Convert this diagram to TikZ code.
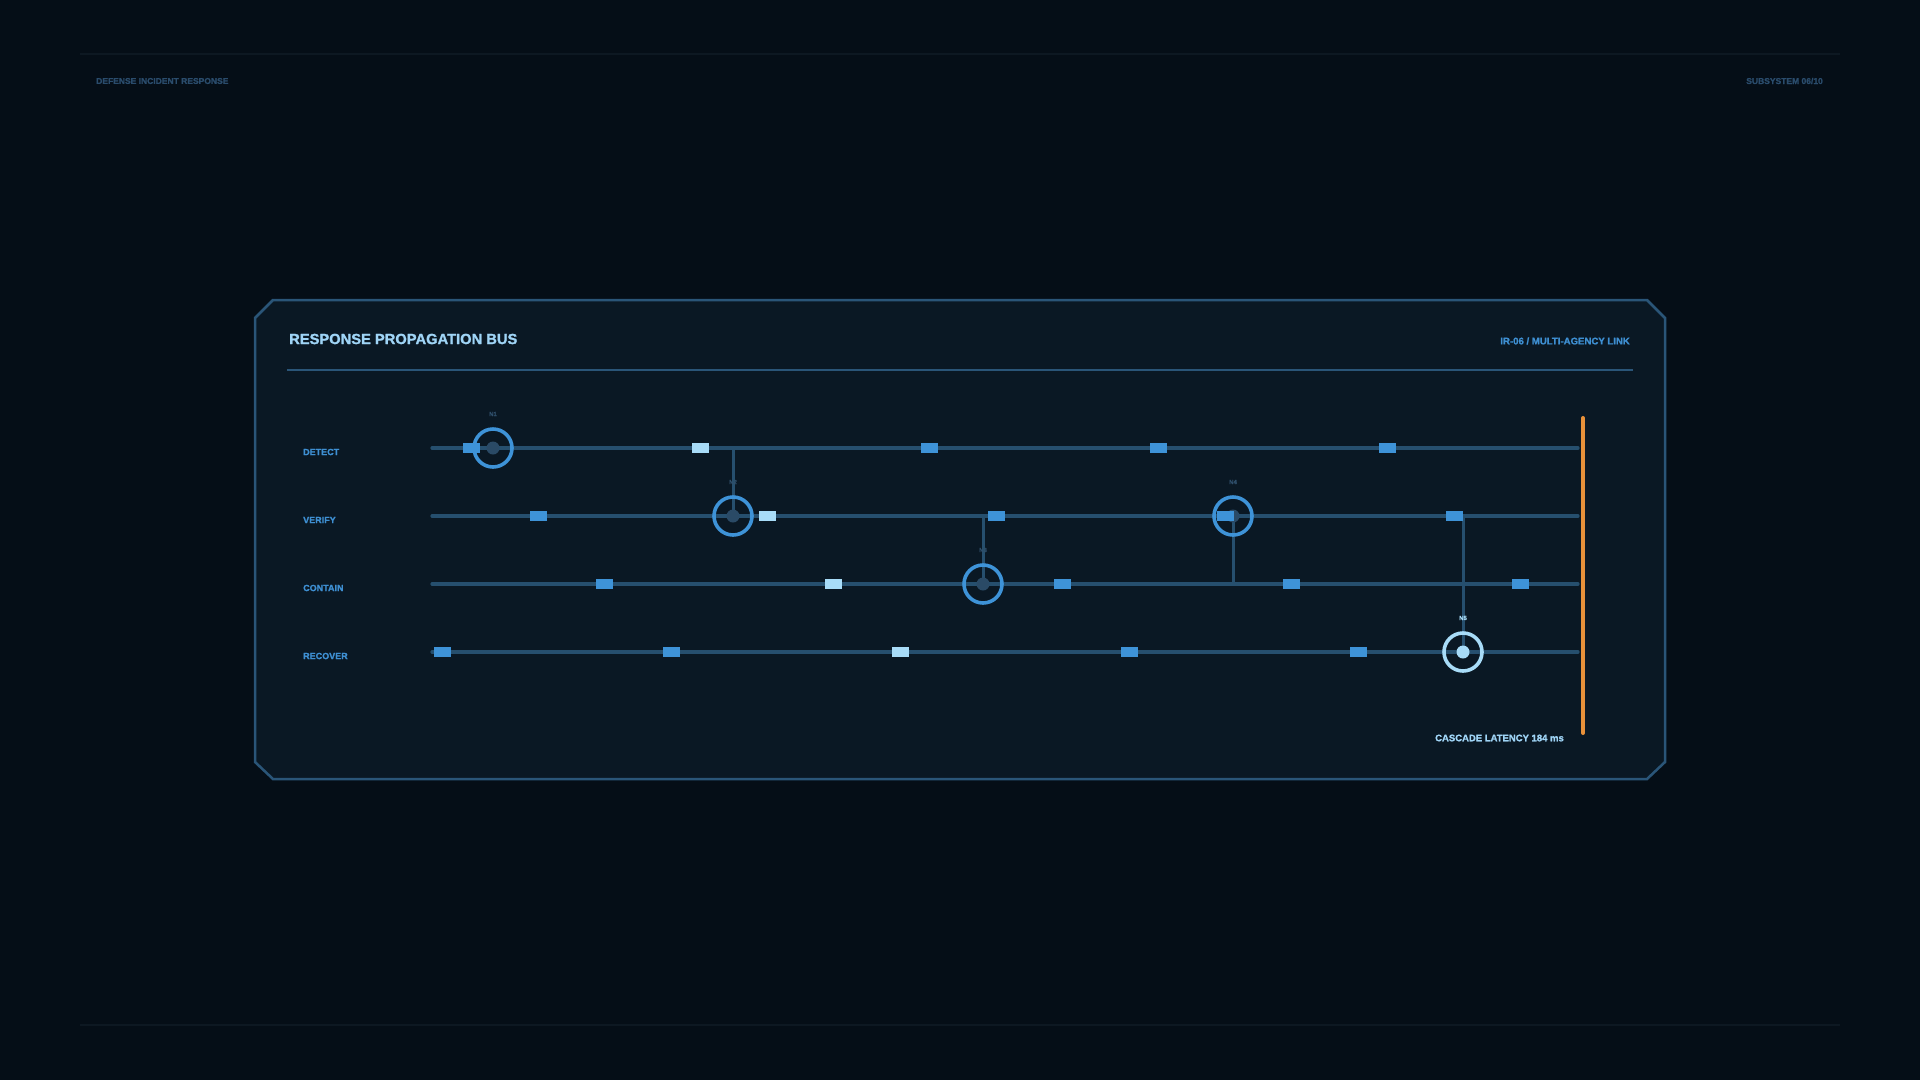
\documentclass[tikz,border=0pt]{standalone}
\usepackage{fontspec}
\setmainfont{Liberation Sans}[BoldFeatures={FakeBold=1.4}]
\definecolor{bgc}{HTML}{050E17}
\definecolor{panelc}{HTML}{0A1824}
\definecolor{edgec}{HTML}{2A5578}
\definecolor{rulec}{HTML}{0D1822}
\definecolor{busc}{HTML}{264F6E}
\definecolor{ringc}{HTML}{3E93D8}
\definecolor{dotc}{HTML}{2A4A66}
\definecolor{sqc}{HTML}{3E93D8}
\definecolor{sqlc}{HTML}{A8DCF8}
\definecolor{titlec}{HTML}{9FD4F6}
\definecolor{labc}{HTML}{3E8FD2}
\definecolor{dimc}{HTML}{2A4C6C}
\definecolor{nlabc}{HTML}{2F4F6B}
\definecolor{orangec}{HTML}{E8913A}
\pgfdeclarelayer{back}
\pgfdeclarelayer{bg}
\pgfsetlayers{back,bg,main}
\tikzset{
  bus/.style={line width=3.2pt, draw=busc, line cap=round},
  link/.style={line width=3pt, draw=busc},
  ring/.style={circle, draw=ringc, line width=3.6pt, minimum size=38pt, inner sep=0pt},
  ringlit/.style={ring, draw=sqlc},
  dot/.style={circle, fill=dotc, minimum size=13pt, inner sep=0pt},
  dotlit/.style={dot, fill=sqlc},
  sq/.style={rectangle, fill=sqc, minimum width=17pt, minimum height=10pt, inner sep=0pt},
  sqlit/.style={sq, fill=sqlc},
  rowlab/.style={anchor=west, text=labc, font=\fontsize{9}{10}\selectfont\bfseries, inner sep=0pt},
  nlab/.style={text=nlabc, font=\fontsize{6}{7}\selectfont\bfseries, inner sep=0pt},
  nlablit/.style={nlab, text=sqlc},
  hdr/.style={text=dimc, font=\fontsize{8.5}{10}\selectfont\bfseries, inner sep=0pt},
}
\begin{document}
\begin{tikzpicture}[x=1pt,y=-1pt]
\useasboundingbox (0,0) rectangle (1920,1080);
\begin{pgfonlayer}{back}
\fill[bgc] (0,0) rectangle (1920,1080);
\draw[rulec, line width=1.5pt] (80,54) -- (1840,54);
\draw[rulec, line width=1.5pt] (80,1025) -- (1840,1025);
\filldraw[fill=panelc, draw=edgec, line width=2.5pt]
  (273,300) -- (1647,300) -- (1665,318) -- (1665,762) -- (1647,779)
  -- (273,779) -- (255,762) -- (255,318) -- cycle;
\draw[edgec, line width=1.3pt] (287,370) -- (1633,370);
\end{pgfonlayer}

% header texts
\node[hdr, anchor=west] (hl) at (96,81) {DEFENSE INCIDENT RESPONSE};
\node[hdr, anchor=east] (hr) at (1823,81) {SUBSYSTEM 06/10};
\node[anchor=west, text=titlec, font=\fontsize{14.7}{16}\selectfont\bfseries, inner sep=0pt] (title) at (289,339) {RESPONSE PROPAGATION BUS};
\node[anchor=east, text=labc, font=\fontsize{9.6}{11}\selectfont\bfseries, inner sep=0pt] (sub) at (1630,341) {IR-06 / MULTI-AGENCY LINK};

% row labels
\node[rowlab] (ldetect) at (303,452) {DETECT};
\node[rowlab] (lverify) at (303,520) {VERIFY};
\node[rowlab] (lcontain) at (303,588) {CONTAIN};
\node[rowlab] (lrecover) at (303,656) {RECOVER};

% bus end points
\coordinate (ds) at (432,448); \coordinate (de) at (1578,448);
\coordinate (vs) at (432,516); \coordinate (ve) at (1578,516);
\coordinate (cs) at (432,584); \coordinate (ce) at (1578,584);
\coordinate (rs) at (432,652); \coordinate (re) at (1578,652);
% junctions
\coordinate (j2) at (733,448);
\coordinate (j3) at (983,516);
\coordinate (j4) at (1233,584);
\coordinate (j5) at (1463,516);

% nodes
\node[ring] (n1) at (493,448) {};
\node[ring] (n2) at (733,516) {};
\node[ring] (n3) at (983,584) {};
\node[ring] (n4) at (1233,516) {};
\node[ringlit] (n5) at (1463,652) {};
\node[dot] (n1d) at (n1) {};
\node[dot] (n2d) at (n2) {};
\node[dot] (n3d) at (n3) {};
\node[dot] (n4d) at (n4) {};
\node[dotlit] (n5d) at (n5) {};
\node[nlab] (t1) at (493,414) {N1};
\node[nlab] (t2) at (733,482) {N2};
\node[nlab] (t3) at (983,550) {N3};
\node[nlab] (t4) at (1233,482) {N4};
\node[nlablit] (t5) at (1463,618) {N5};

\begin{pgfonlayer}{bg}
\draw[bus] (ds) -- (de);
\draw[bus] (vs) -- (ve);
\draw[bus] (cs) -- (ce);
\draw[bus] (rs) -- (re);
\draw[link] (n2.center) -- (j2);
\draw[link] (n3.center) -- (j3);
\draw[link] (n4.center) -- (j4);
\draw[link] (n5.center) -- (j5);
\end{pgfonlayer}

% signal squares
\node[sq]    (d0) at (471,448) {};
\node[sqlit] (d1) at (700,448) {};
\node[sq]    (d2) at (929,448) {};
\node[sq]    (d3) at (1158,448) {};
\node[sq]    (d4) at (1387,448) {};
\node[sq]    (v0) at (538,516) {};
\node[sqlit] (v1) at (767,516) {};
\node[sq]    (v2) at (996,516) {};
\node[sq]    (v3) at (1225,516) {};
\node[sq]    (v4) at (1454,516) {};
\node[sq]    (c0) at (604,584) {};
\node[sqlit] (c1) at (833,584) {};
\node[sq]    (c2) at (1062,584) {};
\node[sq]    (c3) at (1291,584) {};
\node[sq]    (c4) at (1520,584) {};
\node[sq]    (r0) at (442,652) {};
\node[sq]    (r1) at (671,652) {};
\node[sqlit] (r2) at (900,652) {};
\node[sq]    (r3) at (1129,652) {};
\node[sq]    (r4) at (1358,652) {};

% latency bar
\coordinate (bt) at (1583,418);
\coordinate (bb) at (1583,733);
\draw[orangec, line width=4pt, line cap=round] (bt) -- (bb);
\node[anchor=east, text=titlec, font=\fontsize{9.5}{11}\selectfont\bfseries, inner sep=0pt] (lat) at (1564,738) {CASCADE LATENCY 184 ms};
\end{tikzpicture}
\end{document}
